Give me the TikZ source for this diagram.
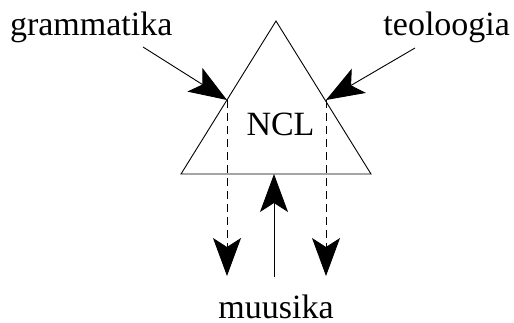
\documentclass[tikz,border=0pt]{standalone}
\usepackage{fontspec}
\setmainfont{Liberation Serif}
\usetikzlibrary{arrows.meta}
\begin{document}
\begin{tikzpicture}[x=1pt,y=1pt,
  every node/.style={inner sep=0pt,outer sep=0pt,font=\fontsize{34}{40}\selectfont},
  edge/.style={line width=0.9pt},
  bigtip/.style={-{Stealth[length=38pt,width=28pt,inset=9pt]}},
  flow/.style={edge,bigtip},
  dashflow/.style={edge,bigtip,dash pattern=on 8pt off 5pt}]
  \useasboundingbox (0,0) rectangle (514,-322);
  % triangle
  \coordinate (top) at (276,-21);
  \coordinate (bl) at (181,-174);
  \coordinate (br) at (371,-174);
  \draw[edge] (top) -- (bl) -- (br) -- cycle;
  % labels
  \node[anchor=base west] (gram) at (10,-35) {grammatika};
  \node[anchor=base east] (teol) at (510,-35) {teoloogia};
  \node[anchor=base,text depth=0pt] (muus) at (276,-318) {muusika};
  \node[anchor=base] (ncl) at (280.5,-135) {NCL};
  % arrow ends
  \coordinate (gtail) at (143,-47);
  \coordinate (gtip) at (227,-100);
  \coordinate (ttail) at (415,-48);
  \coordinate (ttip) at (326,-100);
  \coordinate (gout) at (227,-276);
  \coordinate (tout) at (326,-276);
  \coordinate (mtail) at (274,-277);
  \coordinate (mtip) at (274,-174);
  % connectors
  \draw[flow] (gtail) -- (gtip);
  \draw[flow] (ttail) -- (ttip);
  \draw[dashflow] (gtip) -- (gout);
  \draw[dashflow] (ttip) -- (tout);
  \draw[flow] (mtail) -- (mtip);
\end{tikzpicture}
\end{document}
